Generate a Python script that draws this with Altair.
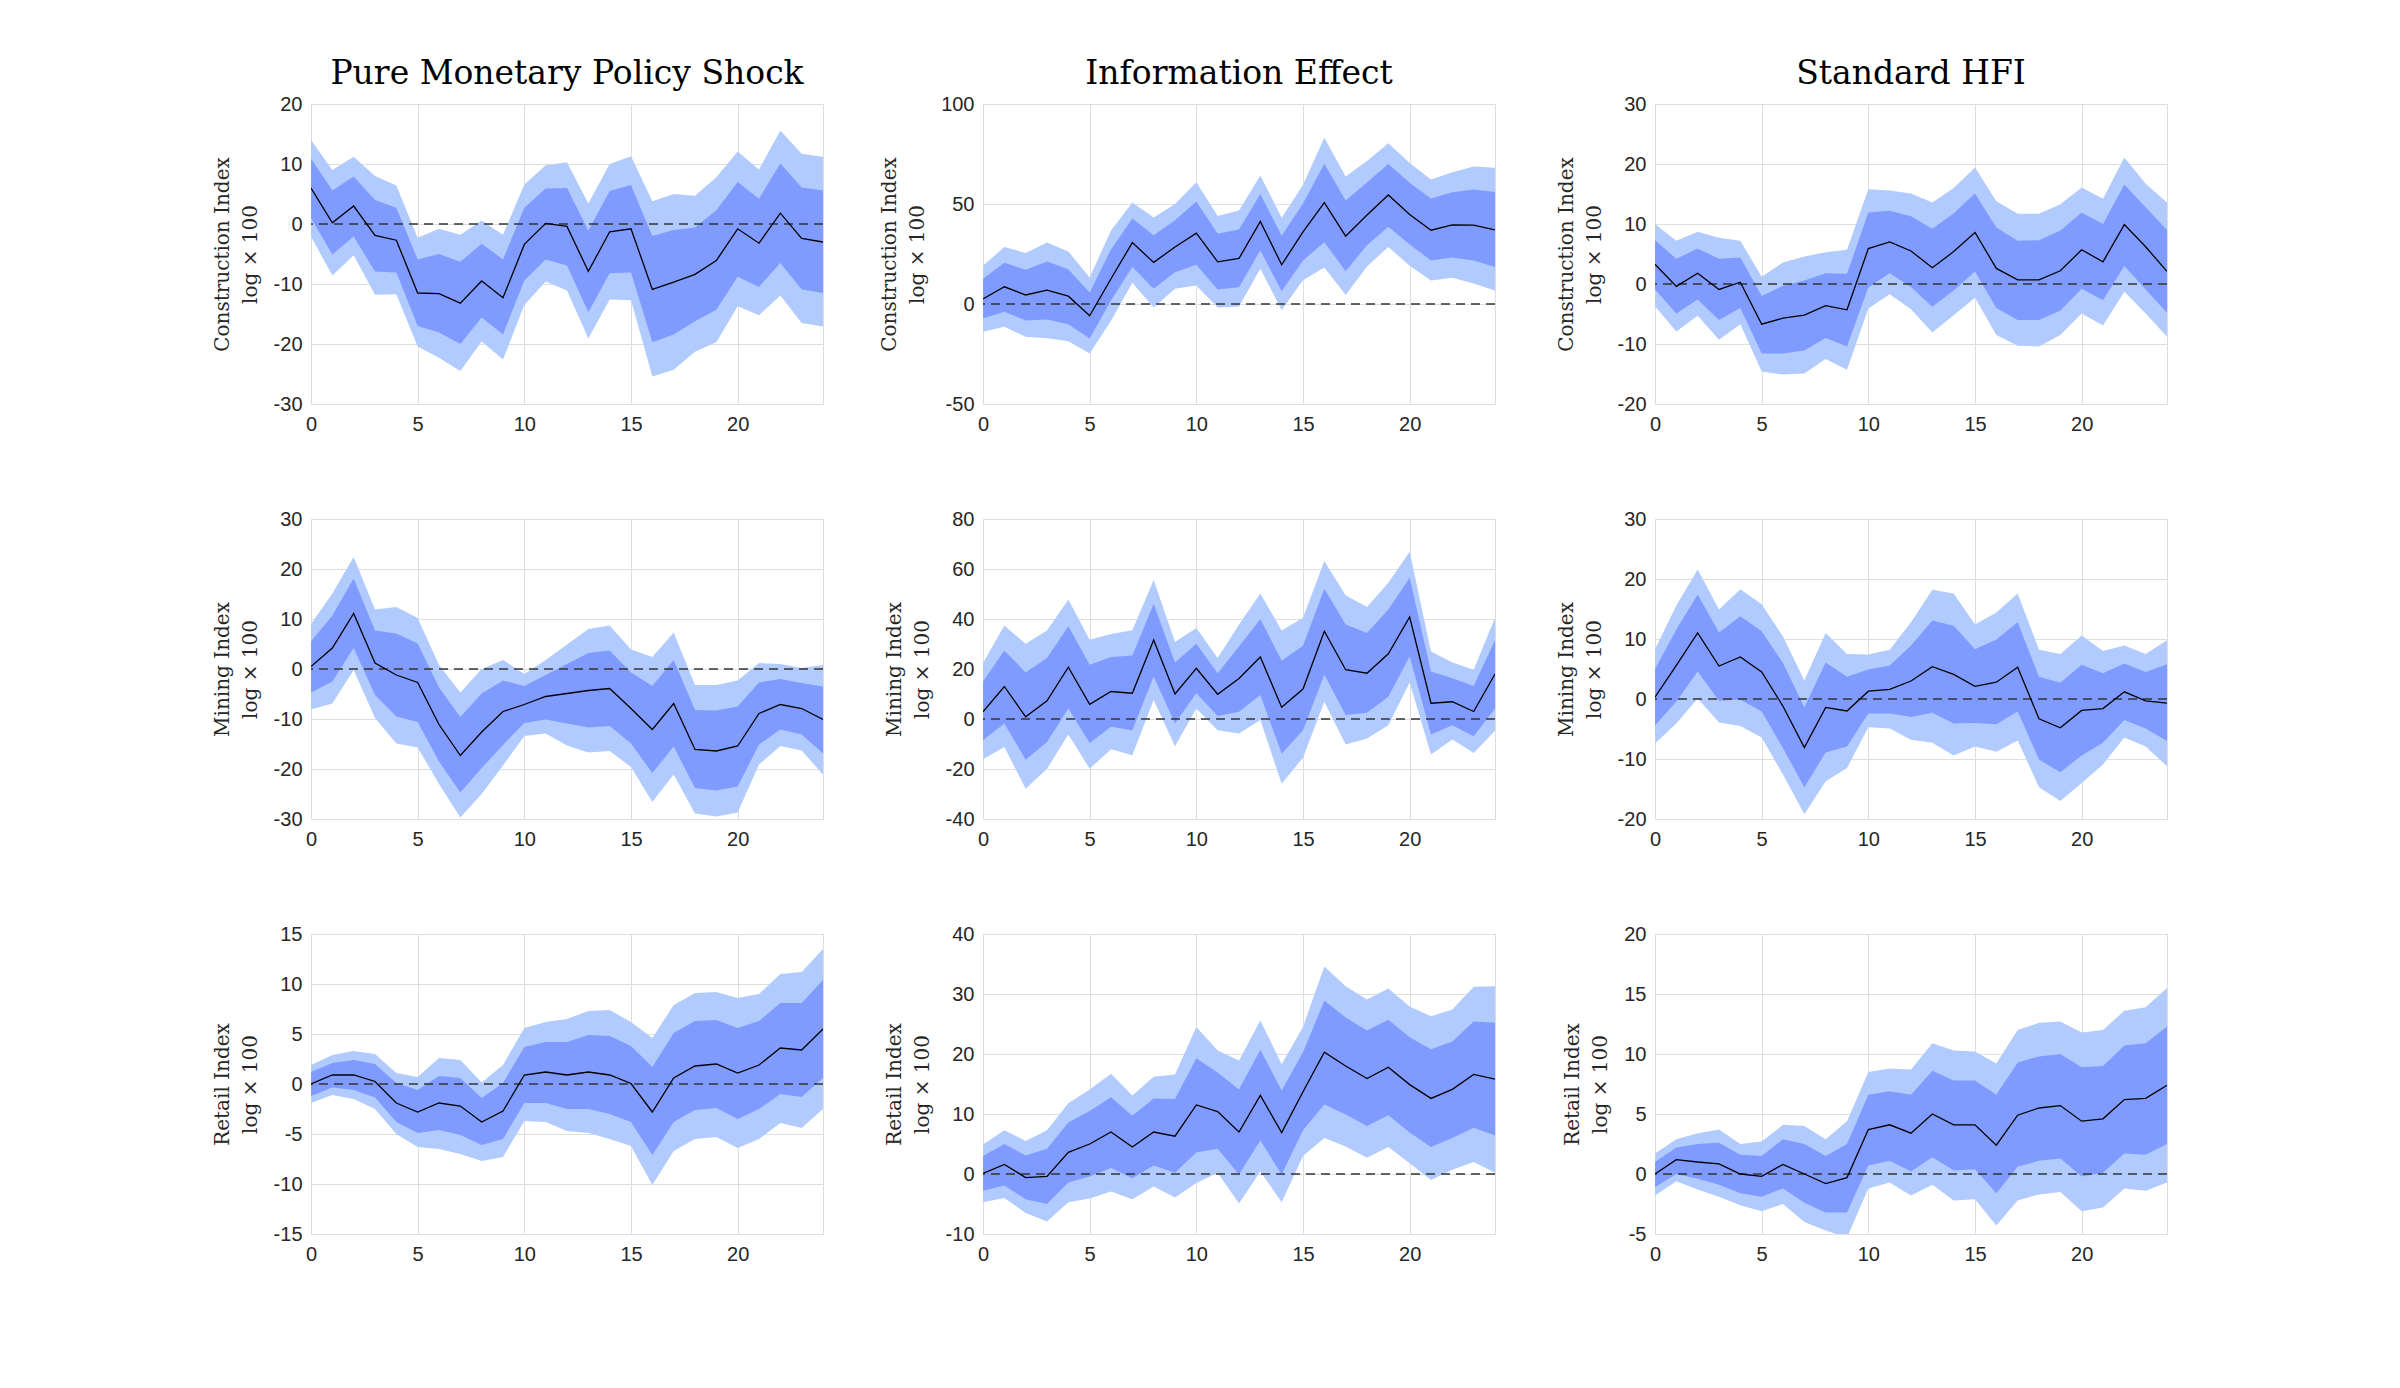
import altair as alt
import pandas as pd

horizons = list(range(25))

col_titles = ["Pure Monetary Policy Shock", "Information Effect", "Standard HFI"]
row_labels = ["Construction Index", "Mining Index", "Retail Index"]
unit_label = "log \u00d7 100"

# ---------- Construction ----------
mp_con_med = [6.0, 0.2, 3.0, -1.9, -2.7, -11.5, -11.6, -13.2, -9.5, -12.3, -3.4, 0.1, -0.4, -7.9, -1.3, -0.8, -10.9, -9.7, -8.4, -6.1, -0.8, -3.2, 1.8, -2.4, -3.0]
mp_con_hi68 = [10.9, 5.6, 7.9, 4.0, 2.7, -5.9, -5.0, -6.3, -3.3, -5.9, 2.7, 5.9, 6.0, -1.1, 5.5, 6.5, -2.0, -1.0, -0.6, 2.3, 7.0, 4.2, 10.1, 6.1, 5.6]
mp_con_lo68 = [1.0, -5.1, -2.1, -7.9, -8.1, -17.0, -18.1, -20.0, -15.6, -18.4, -9.4, -5.9, -6.9, -14.7, -8.2, -8.1, -19.7, -18.4, -16.2, -14.3, -8.8, -10.5, -6.5, -10.9, -11.5]
mp_con_hi90 = [14.0, 9.0, 11.2, 8.0, 6.4, -2.3, -0.8, -1.8, 0.6, -1.8, 6.6, 9.8, 10.3, 3.4, 10.0, 11.3, 3.8, 5.0, 4.7, 7.8, 12.1, 9.1, 15.6, 11.7, 11.2]
mp_con_lo90 = [-2.1, -8.6, -5.2, -11.8, -11.7, -20.4, -22.3, -24.5, -19.6, -22.6, -13.5, -9.6, -11.1, -19.1, -12.6, -12.7, -25.4, -24.3, -21.3, -19.7, -13.7, -15.2, -11.9, -16.5, -17.1]

ie_con_med = [2.5, 8.6, 4.5, 6.9, 3.9, -5.9, 12.6, 30.7, 20.8, 28.5, 35.4, 21.1, 22.8, 41.3, 19.6, 36.1, 50.7, 33.9, 44.5, 54.5, 44.8, 36.9, 39.6, 39.4, 37.1]
ie_con_hi68 = [12.6, 20.6, 17.1, 21.3, 17.4, 5.7, 27.3, 42.8, 34.4, 41.9, 51.2, 35.1, 37.2, 55.0, 34.1, 50.3, 70.1, 51.7, 60.7, 70.0, 60.6, 52.7, 55.9, 57.2, 56.0]
ie_con_lo68 = [-7.2, -3.9, -8.2, -7.7, -10.1, -17.3, 1.7, 18.5, 7.6, 15.9, 19.6, 7.2, 8.4, 26.8, 6.4, 21.8, 30.9, 16.4, 29.4, 38.6, 29.7, 21.8, 23.3, 21.8, 18.5]
ie_con_hi90 = [19.1, 28.5, 25.5, 30.7, 26.3, 13.3, 36.7, 50.7, 43.3, 50.0, 60.9, 44.0, 46.8, 64.3, 43.1, 59.6, 83.1, 63.8, 71.5, 80.4, 70.5, 62.3, 65.9, 68.8, 68.1]
ie_con_lo90 = [-13.9, -11.4, -16.4, -17.1, -18.6, -24.8, -8.4, 10.6, -1.7, 7.6, 9.2, -1.7, -1.3, 17.6, -3.0, 11.9, 18.3, 4.5, 18.8, 28.5, 19.1, 11.7, 13.1, 10.2, 6.7]

hf_con_med = [3.3, -0.4, 1.8, -0.9, 0.3, -6.7, -5.7, -5.2, -3.6, -4.3, 5.9, 7.0, 5.5, 2.7, 5.4, 8.6, 2.6, 0.7, 0.7, 2.2, 5.7, 3.7, 9.9, 6.2, 2.1]
hf_con_hi68 = [7.3, 4.2, 5.9, 4.2, 4.4, -2.0, -0.3, 0.6, 1.8, 1.7, 11.9, 12.2, 11.3, 9.2, 11.8, 15.1, 9.4, 7.2, 7.3, 8.9, 11.9, 10.0, 16.6, 12.8, 9.0]
hf_con_lo68 = [-0.9, -4.9, -2.6, -6.0, -4.0, -11.6, -11.6, -11.1, -9.0, -10.4, -0.6, 1.8, -0.5, -3.8, -1.1, 2.1, -4.0, -6.0, -6.0, -4.4, -0.8, -2.7, 3.0, -0.9, -4.8]
hf_con_hi90 = [10.0, 7.2, 8.7, 7.7, 7.2, 1.2, 3.6, 4.6, 5.3, 5.7, 15.8, 15.6, 15.1, 13.6, 16.0, 19.4, 13.8, 11.7, 11.7, 13.3, 16.1, 14.2, 21.1, 16.7, 13.6]
hf_con_lo90 = [-3.7, -7.9, -5.3, -9.3, -6.7, -14.6, -15.1, -14.9, -12.5, -14.3, -4.1, -1.7, -4.2, -8.1, -5.2, -2.3, -8.5, -10.3, -10.4, -8.5, -4.9, -6.9, -1.3, -4.9, -8.8]

# ---------- Mining ----------
mp_min_med = [0.5, 4.2, 11.1, 1.2, -1.2, -2.7, -11.1, -17.3, -12.6, -8.5, -7.1, -5.5, -4.9, -4.3, -3.9, -7.9, -12.1, -6.9, -16.1, -16.4, -15.4, -8.9, -7.1, -7.9, -10.1]
mp_min_hi68 = [5.5, 10.7, 18.1, 7.7, 7.1, 5.1, -3.7, -9.6, -4.9, -2.3, -3.4, -1.2, 1.0, 3.2, 3.7, -0.7, -3.4, 1.8, -8.2, -8.3, -7.5, -2.7, -2.0, -2.8, -3.5]
mp_min_lo68 = [-4.7, -2.5, 4.2, -5.2, -9.5, -10.6, -18.5, -24.7, -19.8, -15.2, -10.8, -10.1, -10.9, -11.7, -11.4, -14.9, -20.8, -15.5, -23.8, -24.3, -23.5, -15.1, -12.1, -13.1, -16.9]
mp_min_hi90 = [9.0, 15.1, 22.4, 11.9, 12.4, 10.2, 0.8, -4.7, 0.0, 1.8, -1.0, 1.8, 4.9, 8.0, 8.7, 3.9, 2.4, 7.3, -3.2, -3.2, -2.3, 1.2, 1.0, 0.2, 0.8]
mp_min_lo90 = [-8.1, -6.9, -0.2, -9.8, -14.9, -15.7, -23.0, -29.7, -25.0, -19.3, -13.4, -12.9, -15.3, -16.7, -16.4, -19.6, -26.6, -21.1, -28.9, -29.5, -28.7, -19.1, -15.4, -16.3, -21.1]

ie_min_med = [2.9, 13.0, 0.9, 7.3, 20.7, 5.9, 11.0, 10.3, 31.6, 10.0, 20.3, 9.9, 16.2, 24.8, 4.7, 12.0, 35.1, 19.7, 18.3, 26.1, 40.8, 6.3, 6.9, 3.0, 18.0]
ie_min_hi68 = [15.0, 27.4, 18.6, 24.4, 37.1, 21.7, 24.8, 25.4, 46.1, 22.6, 30.1, 18.3, 29.0, 40.0, 23.3, 29.3, 52.1, 37.8, 34.4, 43.8, 56.5, 19.0, 16.3, 13.2, 31.5]
ie_min_lo68 = [-8.5, -1.8, -16.3, -9.2, 4.2, -9.6, -3.1, -4.5, 17.0, -1.8, 10.3, 1.2, 2.9, 9.6, -13.9, -4.5, 17.7, 1.6, 2.5, 8.9, 25.0, -6.2, -2.5, -6.9, 4.2]
ie_min_hi90 = [22.4, 37.4, 30.1, 35.4, 47.8, 31.7, 34.0, 35.5, 55.6, 30.8, 36.4, 24.4, 37.8, 50.2, 35.4, 40.5, 63.2, 49.5, 44.8, 54.5, 66.9, 27.0, 22.6, 19.7, 40.5]
ie_min_lo90 = [-16.1, -11.2, -27.9, -19.9, -6.2, -19.9, -12.1, -14.5, 7.6, -10.9, 4.2, -4.5, -5.8, -0.4, -25.9, -15.5, 6.9, -10.2, -7.8, -2.5, 14.6, -14.2, -8.2, -13.6, -4.7]

hf_min_med = [0.3, 5.6, 11.0, 5.5, 7.0, 4.5, -1.2, -8.1, -1.4, -2.0, 1.3, 1.6, 3.0, 5.4, 4.1, 2.1, 2.8, 5.3, -3.3, -4.8, -1.9, -1.6, 1.2, -0.3, -0.7]
hf_min_hi68 = [5.0, 11.6, 17.4, 11.1, 13.8, 11.3, 6.0, -1.4, 6.1, 3.7, 4.9, 5.6, 8.9, 13.1, 12.2, 8.3, 9.9, 12.8, 3.7, 2.7, 5.7, 4.3, 5.9, 4.5, 5.8]
hf_min_lo68 = [-4.4, -0.4, 4.6, -0.3, -0.1, -2.1, -8.2, -14.7, -8.9, -7.9, -2.4, -2.4, -3.0, -2.3, -4.1, -4.0, -4.2, -2.1, -10.1, -12.2, -9.4, -7.3, -3.5, -4.9, -7.0]
hf_min_hi90 = [8.3, 15.6, 21.6, 14.9, 18.3, 15.8, 10.4, 3.1, 11.0, 7.5, 7.4, 8.2, 12.8, 18.2, 17.6, 12.4, 14.4, 17.6, 8.2, 7.5, 10.6, 8.0, 8.9, 7.5, 9.8]
hf_min_lo90 = [-7.4, -4.1, 0.1, -3.9, -4.5, -6.4, -12.6, -19.2, -13.7, -11.5, -4.7, -4.9, -6.8, -7.3, -9.4, -7.9, -8.8, -6.9, -14.7, -17.0, -14.0, -10.9, -6.4, -7.9, -11.2]

# ---------- Retail ----------
mp_ret_med = [0.0, 0.9, 0.9, 0.25, -1.9, -2.8, -1.9, -2.2, -3.8, -2.7, 0.9, 1.2, 0.9, 1.2, 0.9, 0.05, -2.8, 0.6, 1.8, 2.0, 1.1, 1.9, 3.6, 3.4, 5.5]
mp_ret_hi68 = [1.2, 2.1, 2.4, 2.0, 0.1, -0.6, 0.8, 0.6, -1.4, 0.1, 3.7, 4.2, 4.2, 4.9, 4.8, 3.8, 1.7, 5.1, 6.3, 6.4, 5.6, 6.3, 8.1, 8.1, 10.4]
mp_ret_lo68 = [-1.2, -0.35, -0.6, -1.35, -3.8, -4.9, -4.6, -5.1, -6.1, -5.5, -1.9, -1.9, -2.5, -2.5, -3.0, -3.8, -7.1, -3.8, -2.6, -2.4, -3.5, -2.5, -1.0, -1.3, 0.6]
mp_ret_hi90 = [1.9, 2.9, 3.3, 3.0, 1.1, 0.7, 2.6, 2.4, 0.15, 1.9, 5.6, 6.2, 6.5, 7.3, 7.4, 6.2, 4.6, 7.9, 9.1, 9.2, 8.6, 9.0, 11.0, 11.2, 13.5]
mp_ret_lo90 = [-1.9, -1.1, -1.5, -2.5, -5.0, -6.3, -6.5, -7.0, -7.7, -7.3, -3.7, -3.8, -4.7, -4.9, -5.5, -6.2, -10.1, -6.7, -5.5, -5.3, -6.4, -5.5, -3.9, -4.4, -2.5]

ie_ret_med = [0.1, 1.6, -0.6, -0.4, 3.6, 5.0, 7.0, 4.5, 7.0, 6.3, 11.5, 10.4, 7.0, 13.1, 6.9, 13.7, 20.3, 18.0, 15.9, 17.8, 14.9, 12.6, 14.1, 16.6, 15.8]
ie_ret_hi68 = [3.0, 5.0, 3.1, 4.2, 8.6, 10.5, 12.8, 9.7, 12.6, 12.5, 19.3, 16.9, 14.1, 20.7, 13.9, 20.3, 28.9, 26.1, 23.9, 25.7, 22.8, 20.8, 22.1, 25.4, 25.2]
ie_ret_lo68 = [-2.8, -1.9, -4.2, -5.0, -1.4, -0.4, 1.0, -0.7, 1.4, 0.2, 3.6, 4.2, -0.1, 5.6, -0.1, 7.3, 11.6, 9.9, 8.0, 9.8, 6.9, 4.5, 6.0, 7.7, 6.4]
ie_ret_hi90 = [4.9, 7.3, 5.5, 7.3, 11.8, 14.1, 16.7, 13.1, 16.2, 16.6, 24.5, 20.6, 18.9, 25.6, 18.3, 24.5, 34.6, 31.3, 29.1, 30.9, 27.9, 26.3, 27.4, 31.2, 31.3]
ie_ret_lo90 = [-4.7, -4.0, -6.5, -7.9, -4.7, -4.1, -2.9, -4.2, -2.1, -3.9, -1.5, 0.2, -4.9, 0.4, -4.7, 3.0, 6.0, 4.6, 2.7, 4.5, 1.8, -1.0, 0.7, 2.0, 0.2]

hf_ret_med = [0.0, 1.2, 1.0, 0.85, 0.0, -0.2, 0.8, 0.0, -0.8, -0.3, 3.7, 4.1, 3.4, 5.0, 4.1, 4.1, 2.4, 4.9, 5.5, 5.7, 4.4, 4.6, 6.2, 6.3, 7.4]
hf_ret_hi68 = [1.0, 2.2, 2.5, 2.6, 1.6, 1.5, 2.9, 2.5, 1.5, 2.5, 6.6, 6.9, 6.6, 8.6, 7.8, 7.8, 6.6, 9.3, 9.8, 10.0, 8.9, 9.0, 10.7, 10.9, 12.3]
hf_ret_lo68 = [-1.1, 0.0, -0.4, -0.9, -1.6, -1.9, -1.2, -2.4, -3.2, -3.2, 0.7, 1.1, 0.2, 1.4, 0.3, 0.4, -1.6, 0.6, 1.1, 1.3, -0.2, 0.1, 1.7, 1.6, 2.5]
hf_ret_hi90 = [1.7, 2.9, 3.4, 3.7, 2.5, 2.7, 4.1, 4.0, 2.9, 4.4, 8.5, 8.8, 8.7, 10.9, 10.3, 10.2, 9.2, 12.0, 12.6, 12.7, 11.8, 12.0, 13.6, 13.9, 15.5]
hf_ret_lo90 = [-1.8, -0.6, -1.3, -1.9, -2.6, -3.1, -2.5, -4.0, -4.7, -5.3, -1.2, -0.7, -1.8, -0.9, -2.2, -2.1, -4.3, -2.2, -1.7, -1.5, -3.1, -2.8, -1.2, -1.4, -0.7]

# y-axis ranges and tick steps per row / column
y_domains = [
    [[-30, 20], [-50, 100], [-20, 30]],
    [[-30, 30], [-40, 80], [-20, 30]],
    [[-15, 15], [-10, 40], [-5, 20]],
]
y_steps = [
    [10, 50, 10],
    [10, 20, 10],
    [5, 10, 5],
]

panels = [
    [
        (mp_con_med, mp_con_lo68, mp_con_hi68, mp_con_lo90, mp_con_hi90),
        (ie_con_med, ie_con_lo68, ie_con_hi68, ie_con_lo90, ie_con_hi90),
        (hf_con_med, hf_con_lo68, hf_con_hi68, hf_con_lo90, hf_con_hi90),
    ],
    [
        (mp_min_med, mp_min_lo68, mp_min_hi68, mp_min_lo90, mp_min_hi90),
        (ie_min_med, ie_min_lo68, ie_min_hi68, ie_min_lo90, ie_min_hi90),
        (hf_min_med, hf_min_lo68, hf_min_hi68, hf_min_lo90, hf_min_hi90),
    ],
    [
        (mp_ret_med, mp_ret_lo68, mp_ret_hi68, mp_ret_lo90, mp_ret_hi90),
        (ie_ret_med, ie_ret_lo68, ie_ret_hi68, ie_ret_lo90, ie_ret_hi90),
        (hf_ret_med, hf_ret_lo68, hf_ret_hi68, hf_ret_lo90, hf_ret_hi90),
    ],
]

W, H = 512, 300
LIGHT = "#b2cbff"
DARK = "#809bff"
SERIF = "DejaVu Serif"
SANS = "Liberation Sans"


def make_panel(r, c):
    med, lo68, hi68, lo90, hi90 = panels[r][c]
    df = pd.DataFrame({"h": horizons, "med": med, "lo68": lo68, "hi68": hi68,
                       "lo90": lo90, "hi90": hi90})
    dom = y_domains[r][c]
    step = y_steps[r][c]
    ticks = list(range(dom[0], dom[1] + 1, step))
    xs = alt.Scale(domain=[0, 24], nice=False, zero=False)
    ys = alt.Scale(domain=dom, nice=False, zero=False)
    xaxis = alt.Axis(values=[0, 5, 10, 15, 20], title=None, grid=True,
                     gridColor="#dedede", ticks=False, domain=False,
                     labelFont=SANS, labelFontSize=20, labelColor="#262626",
                     labelPadding=10, labelFlush=False)
    yaxis = alt.Axis(values=ticks, title=[row_labels[r], unit_label], grid=True,
                     gridColor="#dedede", ticks=False, domain=False,
                     labelFont=SANS, labelFontSize=20, labelColor="#262626",
                     labelPadding=9, labelExpr="'' + datum.value",
                     titleFont=SERIF, titleFontSize=20, titleFontWeight="normal",
                     titleColor="#262626", titlePadding=13, titleLineHeight=28)
    base = alt.Chart(df)
    light = base.mark_area(color=LIGHT, opacity=1, clip=True).encode(
        x=alt.X("h:Q", scale=xs, axis=xaxis),
        y=alt.Y("lo90:Q", scale=ys, axis=yaxis),
        y2="hi90:Q",
    )
    dark = base.mark_area(color=DARK, opacity=1, clip=True).encode(
        x="h:Q", y="lo68:Q", y2="hi68:Q")
    zero = alt.Chart(pd.DataFrame({"z": [0]})).mark_rule(
        color="#333333", strokeDash=[9, 6], strokeWidth=1.3).encode(y="z:Q")
    line = base.mark_line(color="black", strokeWidth=1.3, clip=True).encode(
        x="h:Q", y="med:Q")
    props = dict(width=W, height=H)
    if r == 0:
        props["title"] = alt.TitleParams(col_titles[c], font=SERIF, fontSize=33,
                                         fontWeight="normal", color="black",
                                         offset=3, anchor="middle")
    return alt.layer(light, dark, zero, line).properties(**props)


cells = [make_panel(r, c) for r in range(3) for c in range(3)]

chart = alt.concat(*cells, columns=3, spacing={"row": 115, "column": 160},
                   bounds="flush").properties(
    padding={"left": 203, "top": 49, "right": 10, "bottom": 10}
).configure_view(stroke="#262626", strokeWidth=1.2).configure(
    background="white")

chart.save("out.html", embed_options={"renderer": "svg", "actions": False})
